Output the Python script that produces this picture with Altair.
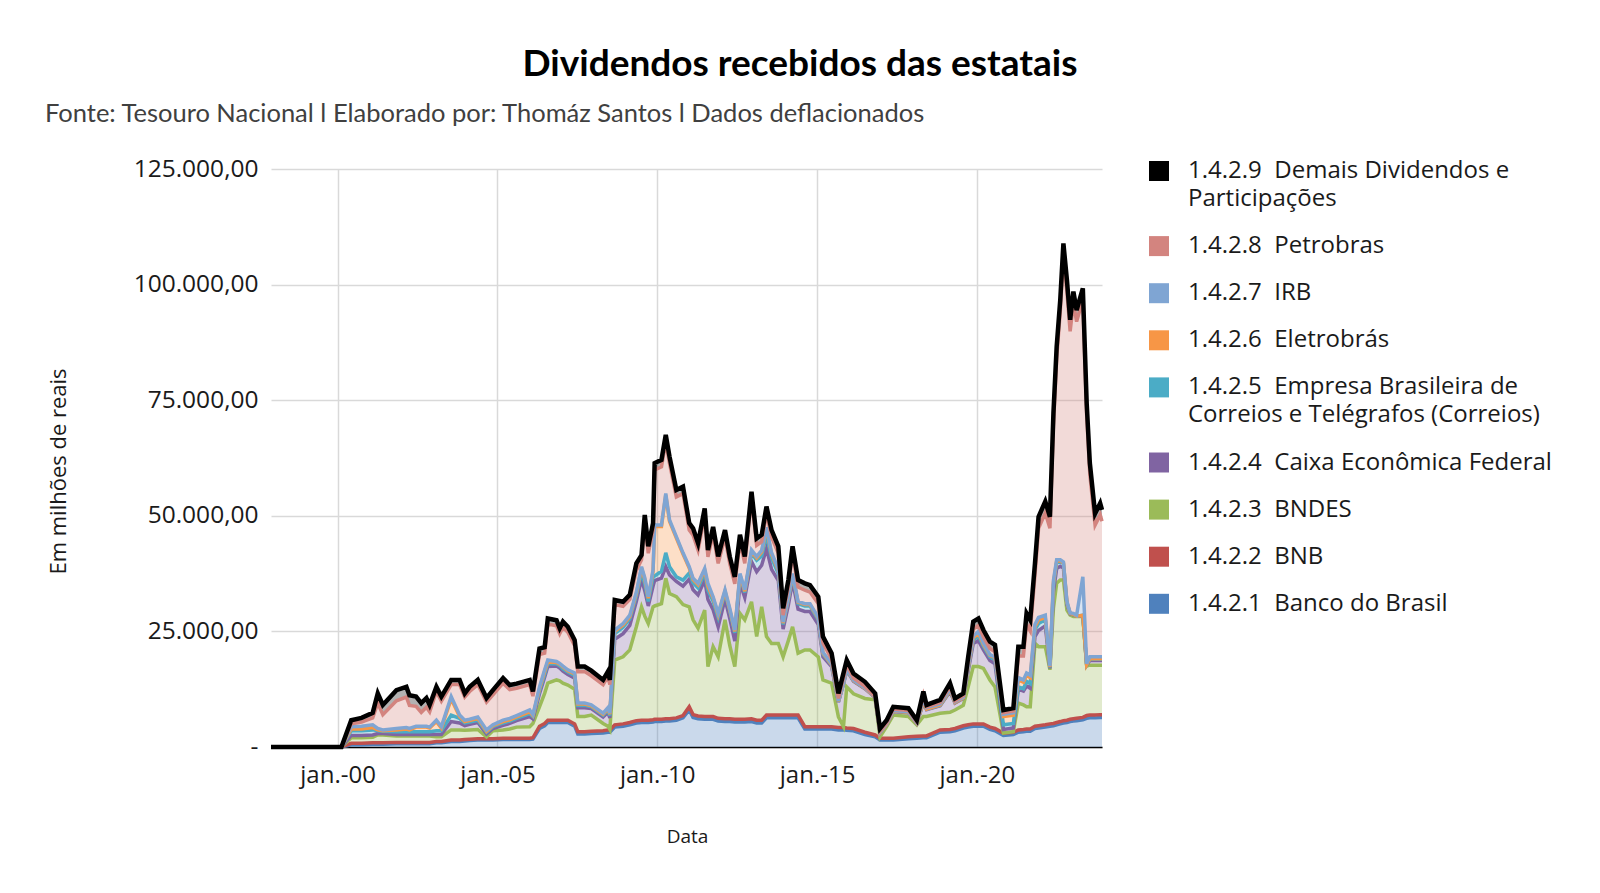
import altair as alt
import pandas as pd

# ---------------------------------------------------------------- data
# values, in thousands of R$ millions (x 1000 -> R$ millions)
dates = [
    "1997-12-01", "2000-02-14",
    "2000-06-05", "2000-10-01", "2001-02-05", "2001-04-04", "2001-06-01", "2001-11-03",
    "2002-02-25", "2002-04-01", "2002-06-16", "2002-08-14", "2002-10-12", "2002-11-18",
    "2003-02-03", "2003-04-01", "2003-07-22", "2003-10-26", "2003-12-24",
    "2004-02-18", "2004-05-21", "2004-08-29", "2004-11-10",
    "2005-03-06", "2005-05-21", "2005-08-07",
    "2006-01-04", "2006-02-10", "2006-04-26", "2006-06-24", "2006-07-30", "2006-11-07", "2006-12-13",
    "2007-01-19", "2007-03-16", "2007-06-02", "2007-07-08", "2007-09-24", "2007-12-09",
    "2008-04-22", "2008-06-16", "2008-07-08", "2008-09-02", "2008-12-06",
    "2009-02-21", "2009-05-07", "2009-07-05", "2009-08-11", "2009-09-20", "2009-11-14", "2009-12-02",
    "2010-02-18", "2010-04-08", "2010-05-21", "2010-08-07", "2010-10-22", "2011-01-01",
    "2011-02-14", "2011-04-12", "2011-06-27", "2011-08-03", "2011-10-01", "2011-11-28",
    "2012-02-14", "2012-04-08", "2012-06-05", "2012-08-03", "2012-09-27", "2012-12-13",
    "2013-02-10", "2013-04-08", "2013-06-02", "2013-07-30", "2013-10-15", "2013-12-09",
    "2014-02-07", "2014-03-27", "2014-05-29", "2014-08-14", "2014-10-12",
    "2015-01-15", "2015-03-09", "2015-06-16", "2015-09-02", "2015-10-30", "2015-12-06",
    "2016-02-21", "2016-07-01", "2016-10-26", "2016-12-20",
    "2017-03-06", "2017-05-21", "2017-11-10",
    "2018-02-14", "2018-04-30", "2018-06-05", "2018-11-07",
    "2019-02-28", "2019-04-26", "2019-07-30", "2019-09-24", "2019-11-21",
    "2020-01-19", "2020-03-16", "2020-05-29", "2020-07-26", "2020-10-30",
    "2021-02-21", "2021-04-19", "2021-06-16", "2021-07-22", "2021-09-02", "2021-10-26", "2021-12-06",
    "2022-02-21", "2022-04-15", "2022-05-25", "2022-07-01", "2022-08-11", "2022-09-16", "2022-10-26", "2022-12-02",
    "2023-01-08", "2023-02-14", "2023-04-26", "2023-06-09", "2023-07-15", "2023-09-13", "2023-11-10", "2023-12-01",
]

banco_do_brasil = [
    0, 0, .5, .5, .6, .6, .6, .7,
    .7, .7, .7, .7, .7, .7,
    .9, .9, 1.2, 1.2, 1.3,
    1.4, 1.5, 1.5, 1.5,
    1.6, 1.6, 1.6,
    1.6, 1.7, 4.0, 4.6, 5.3, 5.3, 5.3,
    5.3, 5.3, 4.5, 2.8, 2.8, 2.9,
    3.0, 3.2, 3.2, 4.3, 4.5,
    4.8, 5.2, 5.3, 5.3, 5.3, 5.4, 5.5,
    5.5, 5.6, 5.6, 5.8, 6.3, 8.0,
    6.4, 6.1, 6.0, 6.0, 6.0, 5.6,
    5.5, 5.5, 5.4, 5.4, 5.4, 5.5,
    5.2, 5.2, 6.3, 6.3, 6.3, 6.3,
    6.3, 6.3, 6.3, 3.9, 3.9,
    3.9, 3.9, 3.9, 3.7, 3.7, 3.6,
    3.5, 2.7, 2.2, 1.5,
    1.5, 1.5, 1.8,
    1.9, 2.0, 2.0, 3.2,
    3.3, 3.5, 4.1, 4.3, 4.5,
    4.5, 4.5, 3.8, 3.5, 2.5,
    2.7, 3.2, 3.3, 3.4, 3.4, 4.0, 4.1,
    4.3, 4.5, 4.6, 4.8, 5.0, 5.2, 5.3, 5.5,
    5.6, 5.7, 5.9, 6.2, 6.3, 6.3, 6.4, 6.4,
]
bnb = [
    0, 0, .3, .3, .3, .3, .3, .3,
    .3, .3, .3, .3, .3, .3,
    .3, .3, .3, .3, .3,
    .3, .3, .3, .3,
    .3, .3, .3,
    .3, .3, .5, .5, .5, .5, .5,
    .5, .5, .5, .5, .5, .5,
    .5, .5, .5, .5, .5,
    .5, .5, .5, .5, .5, .5, .5,
    .5, .5, .5, .5, .5, .7,
    .6, .6, .6, .6, .6, .6,
    .6, .6, .6, .6, .6, .6,
    .6, .6, .6, .6, .6, .6,
    .6, .6, .6, .5, .5,
    .5, .5, .5, .5, .5, .5,
    .5, .5, .4, .4,
    .4, .4, .4,
    .4, .4, .4, .5,
    .5, .5, .5, .5, .5,
    .5, .5, .5, .5, .5,
    .5, .5, .5, .5, .5, .5, .5,
    .5, .5, .5, .5, .5, .5, .5, .5,
    .5, .5, .5, .6, .6, .6, .6, .6,
]
bndes = [
    0, 0, 1.2, 1.2, 1.2, 1.7, 1.7, 1.4,
    1.4, 1.4, 1.4, 1.4, 1.4, 1.4,
    1.0, 1.0, 2.2, 2.2, 2.0,
    2.0, 2.0, .4, 1.7,
    1.8, 2.0, 2.4,
    2.5, 3.1, 4.2, 6.5, 8.0, 8.7, 8.5,
    8.0, 7.6, 7.5, 3.3, 3.3, 3.5,
    1.6, .8, .1, 14.0, 14.5,
    15.7, 20.3, 24.5, 22.5, 20.9, 24.4, 24.5,
    25.0, 30.4, 27.1, 26.2, 24.0, 21.6,
    20.5, 19.0, 23.0, 10.8, 15.1, 13.3,
    21.4, 15.9, 11.4, 22.9, 21.5, 25.3,
    18.1, 24.5, 17.0, 15.5, 15.5, 12.6,
    16.1, 19.1, 13.4, 16.6, 16.6,
    15.1, 10.1, 9.4, 2.3, .2, 8.9,
    7.5, 7.3, 7.6, .3,
    2.5, 5.0, 4.4,
    2.5, 4.2, 4.2, 3.6,
    3.7, 4.0, 4.4, 8.2, 12.4,
    12.4, 12.0, 10.2, 9.0, 0,
    .1, 5.8, 5.3, 4.8, 4.8, 17.9, 17.1,
    16.9, 11.7, 24.9, 30.1, 30.6, 30.4, 23.8, 22.5,
    22.1, 22.0, 21.8, 10.7, 10.8, 10.8, 10.7, 10.7,
]
caixa = [
    0, 0, .5, .5, .5, .3, .3, .3,
    .3, .3, .3, .3, .3, .3,
    .5, .5, 1.8, 1.5, 1.0,
    1.2, 1.5, .6, .5,
    1.0, 1.2, 1.4,
    2.2, 1.0, 2.8, 3.5, 3.6, 3.0, 2.8,
    2.6, 2.3, 2.4, 1.9, 1.9, 1.4,
    1.4, 3.0, 2.5, 4.5, 5.0,
    5.3, 5.5, 6.0, 5.5, 3.8, 4.5, 5.5,
    5.5, 2.5, 4.0, 3.3, 4.0, 6.0,
    6.5, 7.2, 6.5, 14.5, 8.0, 6.5,
    4.5, 5.8, 5.5, 6.5, 4.8, 8.7,
    14.0, 9.0, 19.0, 16.0, 13.6, 6.0,
    7.7, 9.8, 9.5, 8.3, 8.3,
    7.0, 5.0, 3.6, 3.2, 9.2, 3.6,
    2.7, 2.1, .5, .9,
    .5, .8, .8,
    .3, 3.0, 1.5, 1.6,
    4.5, 1.5, 1.5, 3.5, 5.0,
    5.6, 4.0, 4.2, 5.0, .8,
    .8, 3.0, 3.0, 4.5, 4.0, 1.5, 3.5,
    4.5, .3, 3.5, 3.2, 3.0, 2.6, 1.2, .3,
    .4, .1, .2, .2, 1.0, 1.0, 1.0, 1.0,
]
correios = [
    0, 0, 1.0, 1.0, 1.1, .6, .5, .6,
    .6, .6, .6, .6, .6, .6,
    .8, .8, 1.4, 1.0, .6,
    .5, .5, .4, .4,
    .5, .5, .5,
    .6, .5, .6, .6, .6, .5, .5,
    .5, .5, .5, .5, .5, .4,
    .4, .5, .5, 1.2, 1.4,
    1.4, 1.2, 1.5, 1.5, 1.0, 2.0, 1.0,
    1.5, 3.0, 1.8, 1.0, 1.3, 1.3,
    1.5, 1.5, 1.5, 2.0, 1.8, 2.0,
    1.4, 1.6, 1.8, 1.5, 1.1, 1.8,
    2.5, 2.0, 3.0, 2.5, 1.5, 1.0,
    1.2, 1.2, 1.2, 1.2, 1.2,
    1.0, .6, .3, .1, .1, .2,
    .1, .1, 0, 0,
    0, .1, .1,
    0, .1, .1, .1,
    .1, .1, .1, .5, .8,
    1.0, .8, .8, .9, 1.0,
    1.0, .5, .5, 1.0, 1.0, 1.5, 1.5,
    1.3, .2, 1.5, 1.2, 1.0, 1.0, .3, .1,
    .1, 0, .1, .1, .3, .3, .3, .3,
]
eletrobras = [
    0, 0, .4, .4, .5, .2, .1, .4,
    .6, .4, 1.0, 1.0, 1.0, .8,
    2.0, .6, 3.5, .4, .3,
    .3, .4, .2, .2,
    .3, .3, .3,
    .4, .2, .5, .6, .4, .3, .3,
    .4, .3, .4, .3, .3, .2,
    .2, .3, .3, .5, .5,
    .5, .5, .9, 1.0, .7, 1.2, 10.7,
    9.7, 12.5, 9.8, 8.4, 5.6, 1.1,
    .7, .7, .7, .8, .7, .6,
    .3, .3, .3, .3, .3, .4,
    .5, .9, 1.3, .8, .7, .3,
    .4, .3, .3, .3, .3,
    .3, .2, .1, .1, .1, .1,
    .1, 0, 0, 0,
    0, 0, 0,
    0, .1, 0, .1,
    .1, 0, 0, .2, .4,
    .6, .4, .3, .4, 1.8,
    1.8, 1.5, 1.4, 1.3, 1.3, .6, .8,
    .5, .1, .5, .4, .2, .1, .2, 0,
    0, 0, 0, 0, .1, .1, .1, .1,
]
irb = [
    0, 0, .5, .6, .6, .3, .2, .3,
    .3, .3, .2, .2, .2, .2,
    .3, .3, .5, .3, .3,
    .3, .3, .3, .2,
    .3, .3, .3,
    .4, .2, .4, .4, .4, .2, .2,
    .2, .2, .2, .2, .2, .2,
    .2, .2, .2, .3, .3,
    .3, .3, .3, .3, .3, .3, .3,
    .3, .3, .3, .3, .3, .3,
    .3, .3, .3, .7, .3, .3,
    .3, .3, .3, .3, .3, .3,
    .3, .3, .3, .3, .3, .2,
    .2, .2, .2, .2, .2,
    .2, .2, .2, .1, .1, .1,
    .1, .1, .1, .1,
    .1, .1, .1,
    .1, .5, .3, .2,
    .3, .2, .2, .3, .4,
    .4, .3, .2, .2, .5,
    .5, .5, .5, .5, .5, .5, .5,
    .5, .2, .5, .3, .2, .2, .2, .1,
    .2, .2, 8.3, .2, .4, .4, .4, .4,
]
petrobras = [
    0, 0, .6, .9, 1.5, 5.5, 3.3, 6.0,
    6.6, 5.0, 4.3, 3.0, 4.1, 3.3,
    6.2, 5.5, 2.6, 6.6, 5.0,
    6.0, 7.0, 6.0, 6.5,
    8.0, 6.2, 5.9,
    5.5, 4.0, 7.0, 3.6, 7.8, 7.7, 6.4,
    8.4, 8.1, 5.9, 6.8, 6.8, 6.3,
    6.2, 6.8, 6.2, 5.5, 3.7,
    3.4, 4.7, 1.5, 12.1, 9.4, 8.6, 11.9,
    12.6, 11.2, 12.2, 8.6, 12.8, 7.9,
    9.3, 7.2, 11.5, 5.7, 13.6, 10.8,
    11.4, 9.7, 10.0, 6.9, 5.7, 11.1,
    2.4, 1.9, 3.0, 3.4, 3.4, 1.5,
    2.1, 4.4, 3.1, 2.9, 2.5,
    3.0, 2.0, 1.0, .5, 1.0, .8,
    .4, .3, .1, .2,
    .2, .3, .3,
    .2, .9, .2, .3,
    .6, .2, .3, 1.0, 1.5,
    1.3, 1.3, 1.3, 1.1, .3,
    .4, 4.7, 5.2, 10.5, 9.6, 10.7, 19.3,
    22.1, 29.8, 33.7, 43.6, 53.7, 66.4, 67.0, 60.9,
    67.1, 63.5, 59.9, 53.8, 39.4, 28.5, 30.7, 29.3,
]
demais = [
    0, 0, .8, .9, 1.1, 2.1, 2.1, 2.3,
    2.2, 2.2, 2.1, 2.0, 2.0, 1.5,
    1.0, 1.0, 1.0, 1.0, .8,
    1.0, 1.0, .9, 1.0,
    1.1, 1.0, 1.0,
    1.0, 1.0, 1.3, 1.3, 1.2, 1.2, 1.2,
    1.2, 1.2, 1.2, 1.1, 1.1, 1.1,
    1.0, 1.0, 1.0, 1.0, 1.0,
    1.0, 1.5, 1.0, 1.5, 1.5, 1.5, 1.5,
    1.5, 1.5, 1.5, 1.5, 1.5, 1.5,
    1.5, 1.5, 1.5, 1.5, 1.5, 1.5,
    1.5, 1.5, 1.5, 1.5, 1.5, 1.5,
    1.5, 1.5, 1.5, 1.5, 1.5, 1.5,
    1.5, 1.5, 1.5, 1.5, 1.5,
    1.5, 1.4, 1.3, 1.1, 1.1, 1.0,
    1.0, 1.0, .7, .6,
    .6, .5, .5,
    .4, .8, .4, .6,
    .7, .5, .5, 1.0, 1.6,
    1.5, 1.5, 1.5, 1.5, .6,
    .6, 2.0, 2.0, 2.4, 2.4, 2.5, 2.5,
    2.5, 2.5, 2.5, 2.5, 2.5, 2.5, 2.5, 2.5,
    2.5, 2.5, 2.5, 2.5, 2.5, 2.5, 2.5, 2.5,
]

NB = "\u00a0"
series_names = [
    f"1.4.2.1{NB} Banco do Brasil",
    f"1.4.2.2{NB} BNB",
    f"1.4.2.3{NB} BNDES",
    f"1.4.2.4{NB} Caixa Econômica Federal",
    f"1.4.2.5{NB} Empresa Brasileira de Correios e Telégrafos (Correios)",
    f"1.4.2.6{NB} Eletrobrás",
    f"1.4.2.7{NB} IRB",
    f"1.4.2.8{NB} Petrobras",
    f"1.4.2.9{NB} Demais Dividendos e Participações",
]
series_colors = ["#4F81BD", "#C0504D", "#9BBB59", "#8064A2", "#4BACC6",
                 "#F79646", "#7FA5D3", "#D3847F", "#000000"]
series_values = [banco_do_brasil, bnb, bndes, caixa, correios,
                 eletrobras, irb, petrobras, demais]

for s in series_values:
    assert len(s) == len(dates), len(s)

records = []
for i, d in enumerate(dates):
    for k, (name, vals) in enumerate(zip(series_names, series_values)):
        records.append({"data": d, "serie": name, "ordem": k, "valor": vals[i] * 1000})
df = pd.DataFrame(records)

titulo = "Dividendos recebidos das estatais"
subtitulo = "Fonte: Tesouro Nacional l Elaborado por: Thomáz Santos l Dados deflacionados"

# ---------------------------------------------------------------- chart
W, H = 831, 578
FONT = "Open Sans"

label_expr = (
    f"datum.label == '{series_names[8]}' ? ['1.4.2.9{NB} Demais Dividendos e', 'Participações'] : "
    f"datum.label == '{series_names[4]}' ? ['1.4.2.5{NB} Empresa Brasileira de', 'Correios e Telégrafos (Correios)'] : "
    "datum.label"
)

x_enc = alt.X(
    "data:T",
    scale=alt.Scale(type="utc", domain=[alt.DateTime(year=1997, month=12, date=1, utc=True),
                                        alt.DateTime(year=2023, month=12, date=1, utc=True)]),
    axis=alt.Axis(
        values=[alt.DateTime(year=y, month=1, date=1, utc=True) for y in (2000, 2005, 2010, 2015, 2020)],
        labelExpr="'jan.-' + utcFormat(datum.value, '%y')",
        labelFont=FONT, labelFontSize=24, labelColor="#1a1a1a", labelPadding=16,
        ticks=False, domain=True, domainColor="#000000", domainWidth=1.5,
        grid=True, gridColor="#d9d9d9", gridWidth=1.5,
        titleFont=FONT, titleFontSize=19, titleFontWeight="normal", titleColor="#1a1a1a",
        titleX=416, titleY=89, titleAlign="center", titleBaseline="middle",
    ),
    title="Data",
)
y_enc = alt.Y(
    "y1:Q",
    scale=alt.Scale(domain=[0, 125000], nice=False),
    axis=alt.Axis(
        values=[0, 25000, 50000, 75000, 100000, 125000],
        labelExpr="datum.value == 0 ? '-' : format(datum.value / 1000, 'd') + '.000,00'",
        labelFont=FONT, labelFontSize=24.5, labelColor="#1a1a1a", labelPadding=13,
        ticks=False, domain=False,
        grid=True, gridColor="#d9d9d9", gridWidth=1.5,
        titleFont=FONT, titleFontSize=22, titleFontWeight="normal", titleColor="#1a1a1a",
        titleX=-213, titleY=302, titleAlign="center", titleBaseline="middle", titleAngle=270,
    ),
    title="Em milhões de reais",
)
color_enc = alt.Color(
    "serie:N",
    scale=alt.Scale(domain=series_names, range=series_colors),
    legend=alt.Legend(
        title=None, orient="none", legendX=876, legendY=-10, padding=0,
        values=series_names[::-1],
        symbolType="square", symbolSize=400, symbolOpacity=1, symbolStrokeWidth=0,
        labelFont=FONT, labelFontSize=24, labelColor="#1a1a1a", labelLimit=700,
        labelOffset=17, rowPadding=23.1, labelExpr=label_expr,
    ),
)

base = alt.Chart(df).transform_stack(
    stack="valor", groupby=["data"], as_=["y0", "y1"],
    sort=[alt.SortField("ordem", order="ascending")],
)

areas = base.mark_area(fillOpacity=0.3, strokeWidth=0).encode(
    x=x_enc, y=y_enc, y2="y0:Q", color=color_enc
)
lines = base.transform_filter("datum.ordem < 8").mark_line(strokeWidth=3.5).encode(
    x=x_enc, y=y_enc, color=color_enc
)
black = base.transform_filter("datum.ordem == 8").mark_line(strokeWidth=4.5).encode(
    x=x_enc, y=y_enc, color=color_enc
)

title_layer = alt.Chart(pd.DataFrame({"t": [titulo]})).mark_text(
    font="Lato", fontSize=37, fontWeight="bold", color="#000000",
    align="center", baseline="middle",
).encode(text="t:N", x=alt.value(529), y=alt.value(-104))

subtitle_layer = alt.Chart(pd.DataFrame({"t": [subtitulo]})).mark_text(
    font="Lato", fontSize=25.5, color="#404040", align="left", baseline="middle",
).encode(text="t:N", x=alt.value(-226), y=alt.value(-55))

chart = alt.layer(areas, lines, black, title_layer, subtitle_layer).properties(
    width=W, height=H,
    autosize=alt.AutoSizeParams(type="none"),
    padding={"left": 271, "top": 169, "right": 498, "bottom": 146},
    background="white",
).configure(
    style={"guide-label": {"lineHeight": 27.6}},
    view=alt.ViewConfig(stroke=None),
)

chart.save("out.html", embed_options={"renderer": "svg", "actions": False})
